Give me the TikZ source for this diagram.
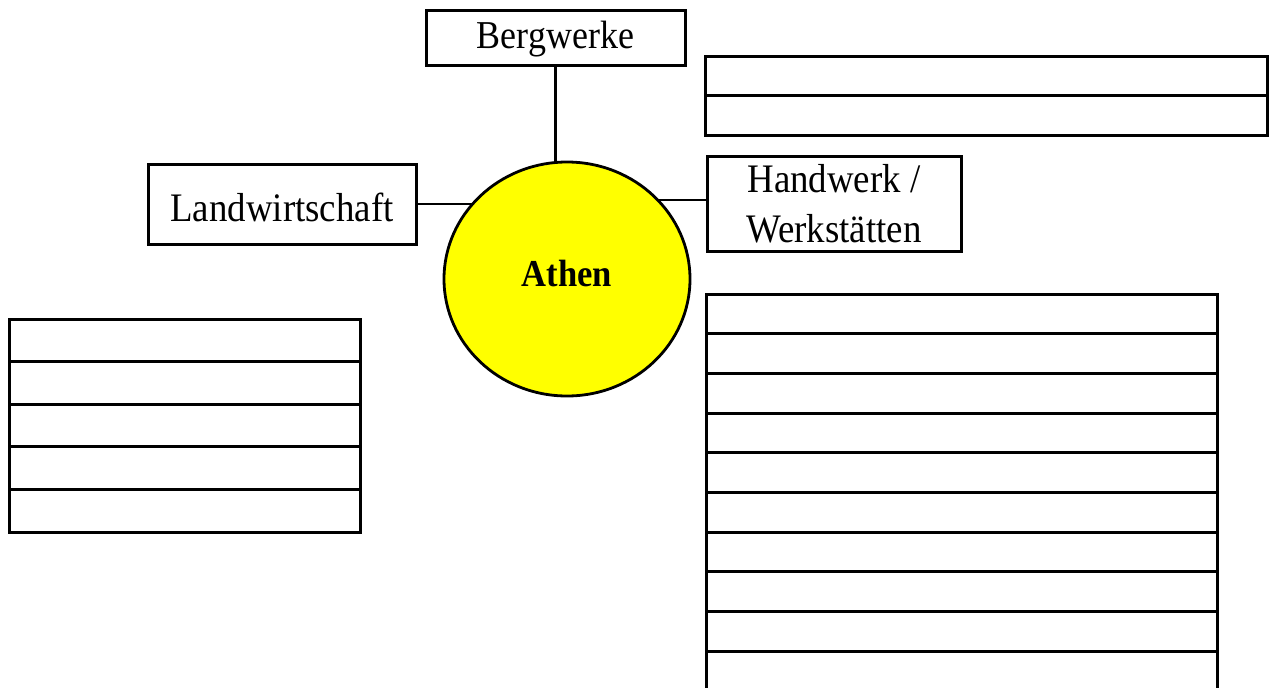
\documentclass[tikz,border=0pt]{standalone}
\usepackage{fontspec}
\setmainfont{Liberation Serif}[FakeStretch=0.91]
\usetikzlibrary{shapes.geometric,backgrounds}
\definecolor{sun}{HTML}{FFFF00}
\tikzset{
  label box/.style={draw, line width=3pt, inner sep=0pt, outer sep=0pt, align=center},
  table row/.style={draw, line width=3pt, inner sep=0pt, outer sep=0pt, anchor=north west},
  link/.style={line width=2.8pt},
  city/.style={ellipse, draw, line width=2.8pt, fill=sun, inner sep=0pt, text depth=12pt,
    font=\bfseries\fontsize{38}{42}\selectfont}
}
\begin{document}
\begin{tikzpicture}[x=1pt,y=-1pt]
\clip (0,0) rectangle (1272,688);
% label boxes
\node[label box, minimum width=259, minimum height=55, text height=27pt, text depth=6pt,
  font=\fontsize{39.5}{44}\selectfont] (berg) at (555.5,37.5) {Bergwerke};
\node[label box, minimum width=268, minimum height=80, text height=34pt, text depth=0pt,
  font=\fontsize{40.5}{44}\selectfont] (land) at (282,204) {Landwirtschaft};
\node[label box, minimum width=254, minimum height=95,
  font=\fontsize{40.5}{50}\selectfont] (hand) at (834,204) {Handwerk /\\Werkst\"atten};
% centre
\node[city, minimum width=246, minimum height=234] (athen) at (567,279) {Athen};
\coordinate (handlink) at ([yshift=4pt]hand.west);
\begin{scope}[on background layer]
  \draw[link] (berg.south) -- (berg.south |- athen.center);
  \draw[link] (land.east) -- (athen.center |- land.east);
  \draw[link] (handlink) -- (athen.center |- handlink);
\end{scope}
% top right table
\foreach \i in {0,1} {
  \node[table row, minimum width=562, minimum height=39.5] (tr\i) at (705,{56+39.5*\i}) {};
}
% left table
\foreach \i in {0,...,4} {
  \node[table row, minimum width=351, minimum height=42.6] (lt\i) at (9,{319+42.6*\i}) {};
}
% right table
\foreach \i in {0,...,9} {
  \node[table row, minimum width=511, minimum height=39.7] (rt\i) at (706,{294+39.7*\i}) {};
}
\end{tikzpicture}
\end{document}
